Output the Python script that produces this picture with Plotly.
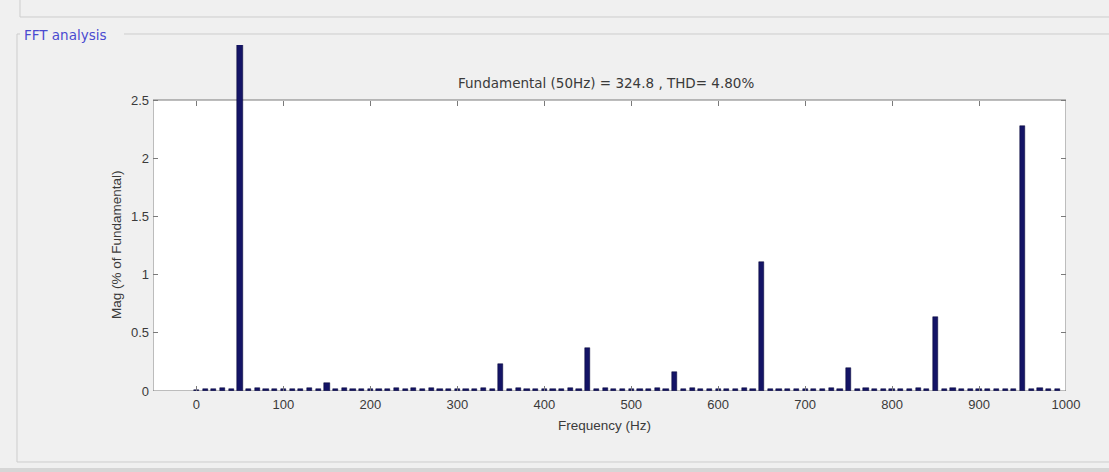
import plotly.graph_objects as go

# ---- data ----
freqs = list(range(0, 1000, 10))
mags = [
    0.005, 0.02, 0.02, 0.03, 0.02, 100.0, 0.02, 0.03, 0.02, 0.02,   # 0-90
    0.02, 0.02, 0.015, 0.03, 0.02, 0.07, 0.02, 0.03, 0.02, 0.02,   # 100-190
    0.02, 0.02, 0.015, 0.03, 0.02, 0.03, 0.02, 0.03, 0.02, 0.02,   # 200-290
    0.02, 0.02, 0.015, 0.03, 0.02, 0.23, 0.02, 0.03, 0.02, 0.02,   # 300-390
    0.02, 0.02, 0.02, 0.03, 0.02, 0.37, 0.02, 0.03, 0.02, 0.02,    # 400-490
    0.02, 0.02, 0.015, 0.03, 0.02, 0.16, 0.02, 0.03, 0.02, 0.02,   # 500-590
    0.02, 0.02, 0.02, 0.03, 0.02, 1.11, 0.02, 0.02, 0.02, 0.02,    # 600-690
    0.02, 0.02, 0.02, 0.03, 0.02, 0.20, 0.02, 0.03, 0.02, 0.02,    # 700-790
    0.02, 0.02, 0.02, 0.03, 0.02, 0.64, 0.02, 0.03, 0.02, 0.02,    # 800-890
    0.02, 0.02, 0.02, 0.02, 0.02, 2.28, 0.02, 0.03, 0.02, 0.02,    # 900-990
]
x_ticks = [0, 100, 200, 300, 400, 500, 600, 700, 800, 900, 1000]
y_ticks = [0, 0.5, 1, 1.5, 2, 2.5]
y_tick_text = ["0", "0.5", "1", "1.5", "2", "2.5"]
title_text = "Fundamental (50Hz) = 324.8 , THD= 4.80%"
x_title = "Frequency (Hz)"
y_title = "Mag (% of Fundamental)"
panel_title = "FFT analysis"

W, H = 1109, 472
L, R, T, B = 153, 43, 45, 81
plot_w = W - L - R
plot_h = H - T - B
px_per_unit = (391 - 100) / 2.5
y_top = plot_h / px_per_unit
x_range = [-50, 1000]


def px(xp):
    return (xp - L) / plot_w


def py(yp):
    return (H - B - yp) / plot_h


BG = "#f0f0f0"
AX = "#7a7a7a"
TXT = "#3a3a3a"
PANEL = "#cdcdcd"
FONT = "Liberation Sans, Arial, sans-serif"
WIDE = "DejaVu Sans, Verdana, sans-serif"

fig = go.Figure()
fig.add_trace(go.Bar(
    x=freqs, y=mags, width=6,
    marker=dict(color="#141466", line=dict(color="#000033", width=0.5)),
    showlegend=False, hoverinfo="x+y",
))
# invisible trace so the top (mirror) axis is drawn
fig.add_trace(go.Scatter(x=[x_range[0]], y=[0], xaxis="x2", mode="markers",
                         marker=dict(opacity=0), showlegend=False, hoverinfo="skip"))


def line(x0, y0, x1, y1, color=PANEL):
    return dict(type="line", xref="paper", yref="paper",
                x0=px(x0), x1=px(x1), y0=py(y0), y1=py(y1),
                line=dict(color=color, width=1))


fig.update_layout(
    width=W, height=H,
    margin=dict(l=L, r=R, t=T, b=B, pad=0),
    paper_bgcolor=BG, plot_bgcolor=BG,
    font=dict(family=FONT, size=13, color=TXT),
    bargap=0,
    xaxis=dict(range=x_range, tickvals=x_ticks, ticks="inside", ticklen=5,
               tickcolor=AX, showgrid=False, zeroline=False, showline=False,
               ticklabelstandoff=4, tickfont=dict(size=13, color=TXT)),
    xaxis2=dict(range=x_range, tickvals=x_ticks, ticks="inside", ticklen=5,
                tickcolor=AX, overlaying="x", side="top", anchor="free",
                position=2.5 / y_top, showticklabels=False, showgrid=False,
                zeroline=False, showline=False),
    yaxis=dict(range=[0, y_top], tickvals=y_ticks, ticktext=y_tick_text,
               ticks="inside", ticklen=5, tickcolor=AX, mirror="ticks",
               showgrid=False, zeroline=False, showline=False,
               ticklabelstandoff=3, tickfont=dict(size=13, color=TXT)),
    shapes=[
        # axes box
        dict(type="rect", xref="x", yref="y", x0=x_range[0], x1=x_range[1],
             y0=0, y1=2.5, fillcolor="white", line=dict(color=AX, width=1),
             layer="below"),
        # upper panel border
        line(20, 17, W, 17),
        line(20, 0, 20, 17),
        # group box
        line(17, 34, 20, 34),
        line(124, 34, W, 34),
        line(17, 34, 17, 462),
        line(17, 462, W, 462),
        # bottom darker band
        dict(type="rect", xref="paper", yref="paper", x0=px(0), x1=px(W),
             y0=py(H), y1=py(468), fillcolor="#d6d6d6", line=dict(width=0),
             layer="below"),
    ],
    annotations=[
        dict(text=title_text, xref="paper", yref="paper",
             x=px(606), y=py(83), xanchor="center", yanchor="middle",
             showarrow=False, font=dict(family=WIDE, size=13.5, color=TXT)),
        dict(text=y_title, xref="paper", yref="paper",
             x=px(117), y=py(245), xanchor="center", yanchor="middle",
             textangle=-90, showarrow=False, font=dict(size=13.5, color=TXT)),
        dict(text=x_title, xref="paper", yref="paper",
             x=px(604), y=py(425), xanchor="center", yanchor="middle",
             showarrow=False, font=dict(size=13.5, color=TXT)),
        dict(text=panel_title, xref="paper", yref="paper",
             x=px(22), y=py(35), xanchor="left", yanchor="middle",
             showarrow=False, font=dict(family=WIDE, size=13.5, color="#4a4ad0"),
             bgcolor=BG),
    ],
)

fig.write_html("out.html", config={"displayModeBar": False},
               post_script="document.body.style.margin='0';")
